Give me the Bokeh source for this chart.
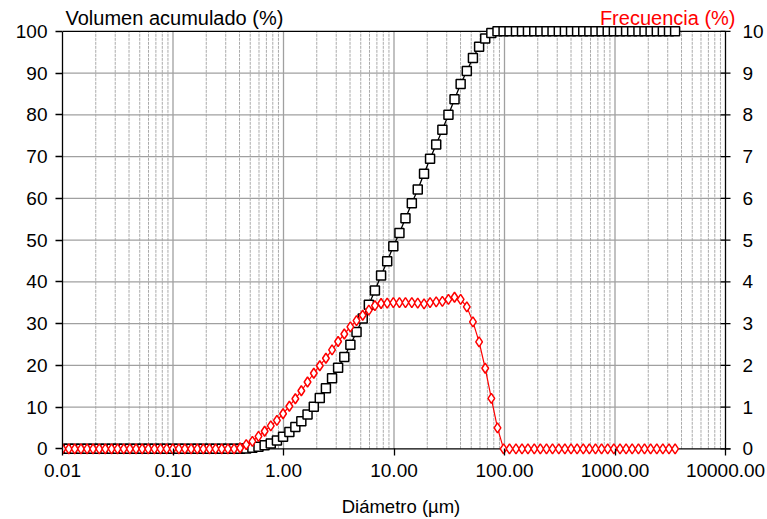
from bokeh.plotting import figure
from bokeh.models import (Range1d, LinearAxis, FixedTicker, NumeralTickFormatter, Label)
from bokeh.embed import file_html
from bokeh.resources import INLINE

# Size classes (µm)
diametro = [0.0100, 0.0114, 0.0129, 0.0147, 0.0167, 0.0189, 0.0215, 0.0244, 0.0278, 0.0315,
            0.0358, 0.0407, 0.0463, 0.0526, 0.0597, 0.0679, 0.0771, 0.0876, 0.0995, 0.113,
            0.128, 0.146, 0.166, 0.188, 0.214, 0.243, 0.276, 0.314, 0.357, 0.405,
            0.460, 0.523, 0.594, 0.675, 0.767, 0.872, 0.991, 1.13, 1.28, 1.45,
            1.65, 1.88, 2.13, 2.42, 2.75, 3.12, 3.55, 4.03, 4.58, 5.21,
            5.92, 6.72, 7.64, 8.68, 9.86, 11.2, 12.7, 14.5, 16.4, 18.7,
            21.2, 24.1, 27.4, 31.1, 35.3, 40.1, 45.6, 51.8, 58.9, 66.9,
            76.0, 86.4, 98.1, 111, 127, 144, 163, 186, 211, 240,
            272, 310, 352, 400, 454, 516, 586, 666, 756, 859,
            976, 1110, 1260, 1430, 1630, 1850, 2100, 2390, 2710, 3080, 3500]

# Frequency (%)
frecuencia = [0, 0, 0, 0, 0, 0, 0, 0, 0, 0,
              0, 0, 0, 0, 0, 0, 0, 0, 0, 0,
              0, 0, 0, 0, 0, 0, 0, 0, 0, 0.02,
              0.10, 0.18, 0.30, 0.42, 0.55, 0.68, 0.84, 1.02, 1.20, 1.39,
              1.60, 1.81, 1.99, 2.17, 2.37, 2.57, 2.75, 2.92, 3.07, 3.20,
              3.32, 3.43, 3.48, 3.49, 3.50, 3.50, 3.50, 3.50, 3.49, 3.47,
              3.50, 3.52, 3.53, 3.58, 3.63, 3.58, 3.40, 3.04, 2.56, 1.93,
              1.21, 0.50, 0, 0, 0, 0, 0, 0, 0, 0,
              0, 0, 0, 0, 0, 0, 0, 0, 0, 0,
              0, 0, 0, 0, 0, 0, 0, 0, 0, 0, 0]

# Cumulative volume (%)
volumen = [0, 0, 0, 0, 0, 0, 0, 0, 0, 0,
           0, 0, 0, 0, 0, 0, 0, 0, 0, 0,
           0, 0, 0, 0, 0, 0, 0, 0, 0, 0.02,
           0.10, 0.25, 0.50, 0.85, 1.3, 2.0, 2.9, 4.0, 5.2, 6.6,
           8.2, 10.1, 12.2, 14.5, 16.9, 19.4, 22.0, 24.9, 28.0, 31.2,
           34.5, 37.9, 41.5, 44.9, 48.5, 51.7, 55.2, 58.8, 62.1, 65.9,
           69.5, 72.9, 76.4, 80.0, 83.7, 87.4, 90.5, 93.6, 96.3, 98.3,
           99.6, 100, 100, 100, 100, 100, 100, 100, 100, 100,
           100, 100, 100, 100, 100, 100, 100, 100, 100, 100,
           100, 100, 100, 100, 100, 100, 100, 100, 100, 100, 100]

x_ticks = [0.01, 0.1, 1, 10, 100, 1000, 10000]
y_left_ticks = [0, 10, 20, 30, 40, 50, 60, 70, 80, 90, 100]
y_right_ticks = [0, 1, 2, 3, 4, 5, 6, 7, 8, 9, 10]

FONT = "Liberation Sans"
GRID = "#a0a0a0"
X0, X1 = x_ticks[0], x_ticks[-1]
PX_DEC = 110.5                        # pixels per decade in the frame
EXTRA = 14                            # frame extends this many px past the last decade
x_end = X1 * 10 ** (EXTRA / PX_DEC)
tick_f = 10 ** (5 / PX_DEC)           # 5 px in log-x units

p = figure(width=767, height=519, x_axis_type="log",
           x_range=Range1d(X0, x_end), y_range=Range1d(-1.6, 106.9),
           output_backend="svg", toolbar_location=None,
           min_border_left=62, min_border_right=28, min_border_top=2, min_border_bottom=61)
p.outline_line_color = None
p.background_fill_color = "white"
p.extra_y_ranges = {"freq": Range1d(-0.16, 10.69)}
p.xgrid.grid_line_color = None
p.ygrid.grid_line_color = None

# vertical grid lines (decades solid, sub-decades dashed)
minor = [m * d for d in x_ticks[:-1] for m in range(2, 10)]
p.segment(x0=minor, x1=minor, y0=[0] * len(minor), y1=[100] * len(minor),
          line_color="#ababab", line_width=1, line_dash="3 1", level="underlay")
p.segment(x0=x_ticks[1:-1], x1=x_ticks[1:-1], y0=[0] * 5, y1=[100] * 5,
          line_color=GRID, line_width=1.3, level="underlay")
# horizontal grid lines
inner = y_left_ticks[1:-1]
p.segment(x0=[X0] * len(inner), x1=[X1] * len(inner), y0=inner, y1=inner,
          line_color=GRID, line_width=1.3, level="underlay")
# frame lines: bottom (0), top (100), right axis line at last decade
p.segment(x0=[X0, X0], x1=[X1 * tick_f, X1], y0=[0, 100], y1=[0, 100],
          line_color="black", line_width=1.3, level="underlay")
p.segment(x0=[X1], x1=[X1], y0=[0], y1=[100], line_color="black", line_width=1.3,
          level="underlay")
# right-axis tick marks crossing the axis line
p.segment(x0=[X1 / tick_f] * len(y_right_ticks), x1=[X1 * tick_f] * len(y_right_ticks),
          y0=y_right_ticks, y1=y_right_ticks, line_color="black", line_width=1.3,
          y_range_name="freq", level="underlay")

# series
p.line(diametro, volumen, line_color="black", line_width=1.3)
p.scatter(diametro, volumen, marker="square", size=9, line_color="black",
          line_width=1.5, fill_color="white")
p.line(diametro, frecuencia, line_color="#ff0000", line_width=1.2, y_range_name="freq")
p.scatter(diametro, frecuencia, marker="diamond", size=10, line_color="#ff0000",
          line_width=1.5, fill_color="white", y_range_name="freq")

# axes
xa = p.xaxis[0]
xa.ticker = FixedTicker(ticks=x_ticks, minor_ticks=[])
xa.formatter = NumeralTickFormatter(format="0.00")
xa.axis_line_color = None
xa.major_tick_in = 7
xa.major_tick_out = 0
xa.major_tick_line_color = "black"
xa.major_label_standoff = 8
xa.axis_label = "Diámetro (µm)"
xa.axis_label_standoff = 16
xa.axis_label_text_font_style = "normal"

ya = p.yaxis[0]
ya.ticker = FixedTicker(ticks=y_left_ticks, minor_ticks=[])
ya.bounds = (0, 100)
ya.major_tick_in = 0
ya.major_tick_out = 7
ya.major_label_standoff = 8
ya.axis_line_color = "black"

ra = LinearAxis(y_range_name="freq", ticker=FixedTicker(ticks=y_right_ticks, minor_ticks=[]),
                bounds=(0, 10))
ra.axis_line_color = None
ra.major_tick_line_color = None
ra.major_tick_in = 0
ra.major_tick_out = 0
ra.major_label_standoff = 3
p.add_layout(ra, "right")

for ax in (xa, ya, ra):
    ax.major_label_text_font = FONT
    ax.major_label_text_font_size = "19px"
    ax.major_label_text_color = "black"
    ax.axis_label_text_font = FONT
    ax.axis_label_text_font_size = "18.5px"
    ax.axis_label_text_color = "black"
    ax.axis_line_width = 1.3
    ax.major_tick_line_width = 1.3
    ax.minor_tick_line_color = None

p.add_layout(Label(x=X0, y=100, x_offset=3, y_offset=2, text="Volumen acumulado (%)",
                   text_font=FONT, text_font_size="20px", text_color="black",
                   text_baseline="bottom", text_align="left"))
p.add_layout(Label(x=X1, y=100, x_offset=10, y_offset=2, text="Frecuencia (%)",
                   text_font=FONT, text_font_size="20px", text_color="#ff0000",
                   text_baseline="bottom", text_align="right"))

open("out.html", "w").write(file_html(p, INLINE))
